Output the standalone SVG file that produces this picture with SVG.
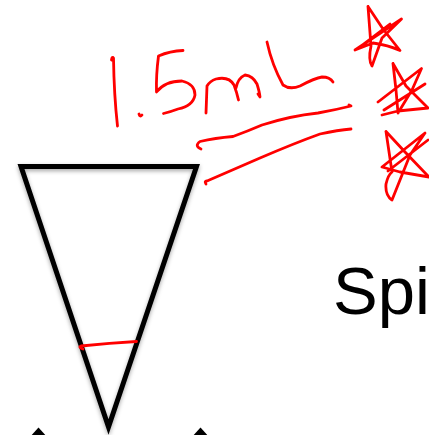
<svg xmlns="http://www.w3.org/2000/svg" width="429" height="435" viewBox="0 0 429 435">
<style>
.ink{fill:none;stroke:#ff0000;stroke-width:2.8;stroke-linecap:round;stroke-linejoin:round}
.tri{fill:none;stroke:#000;stroke-width:5;stroke-linejoin:miter;stroke-miterlimit:10}
.lbl{font-family:"Liberation Sans",Arial,sans-serif;font-size:67px;fill:#000}
</style>
<defs>
<filter id="sh" x="-20%" y="-20%" width="140%" height="140%">
<feDropShadow dx="0" dy="2" stdDeviation="2" flood-color="#000" flood-opacity="0.35"/>
</filter>
</defs>
<rect width="429" height="435" fill="#fff"/>
<g id="cone">
<polygon class="tri" filter="url(#sh)" points="21,166.5 196.5,166.5 108.5,427"/>
</g>
<g id="level-mark">
<path class="ink" d="M83,349 Q78,347 81,346 Q110,343 136.5,341.5"/>
</g>
<g id="bottom-marks">
<polygon points="29,438 38.5,427.5 48,438" fill="#000"/>
<polygon points="191,438 200.5,427.5 210,438" fill="#000"/>
</g>
<g id="label-spi">
<text class="lbl" x="333" y="314">Spi</text>
</g>
<g id="handwriting">
<path class="ink" d="M111.5,60 Q112,56 113.5,58 Q114,95 117.5,126"/>
<path class="ink" d="M139,114 Q140,117.5 142,115"/>
<path class="ink" d="M183,50.5 Q170,51 158.5,56 Q156,75 156.5,92 Q165,81 182,81 Q195,84 195,95 Q193,106 178,109 Q170,112 163.5,113.5"/>
<path class="ink" d="M206,113 L207,86 Q210,81 216,79 Q229,76 234,85 Q237,93 238.5,100 M236,88 Q238,78 245,75 Q253,76 257,84 Q259.5,92 260,97 L258,94"/>
<path class="ink" d="M267,42 Q272,65 283,85 Q290,90 300,86 Q315,78 322,77 Q330,77 333,82"/>
</g>
<g id="connectors">
<path class="ink" d="M201,149 Q194,146 200,141.5 Q215,138 233,136.5 Q248,131 262,125 Q290,116 318,113 Q335,110 351,106 L349,105"/>
<path class="ink" d="M206,184 Q204,181 207,181 Q230,171 260,158 Q295,143 320,134 Q338,130 351,129"/>
</g>
<g id="stars">
<path class="ink" d="M368,6.5 L383,29 L400,50.5 Q388,45 373,43 L355,50 L401.5,19 L382,38 L372,66 Q368,60 371,46 L368,6.5 M361,46 L390,24"/>
<path class="ink" d="M393,63.5 L406,86 L428,108 L398,111 L382,115 M378,102 L421.5,68.5 L412,90 L398,113 L396,90 L393,63.5 M384,110 L425,84"/>
<path class="ink" d="M386,131.5 L405,152 L429,177 L400,172 L382,167 L425,133 L410,155 L392,200 Q385,195 386,184 Q388,175 392,172 L386,131.5 M388,171 L428,140"/>
</g>
</svg>
